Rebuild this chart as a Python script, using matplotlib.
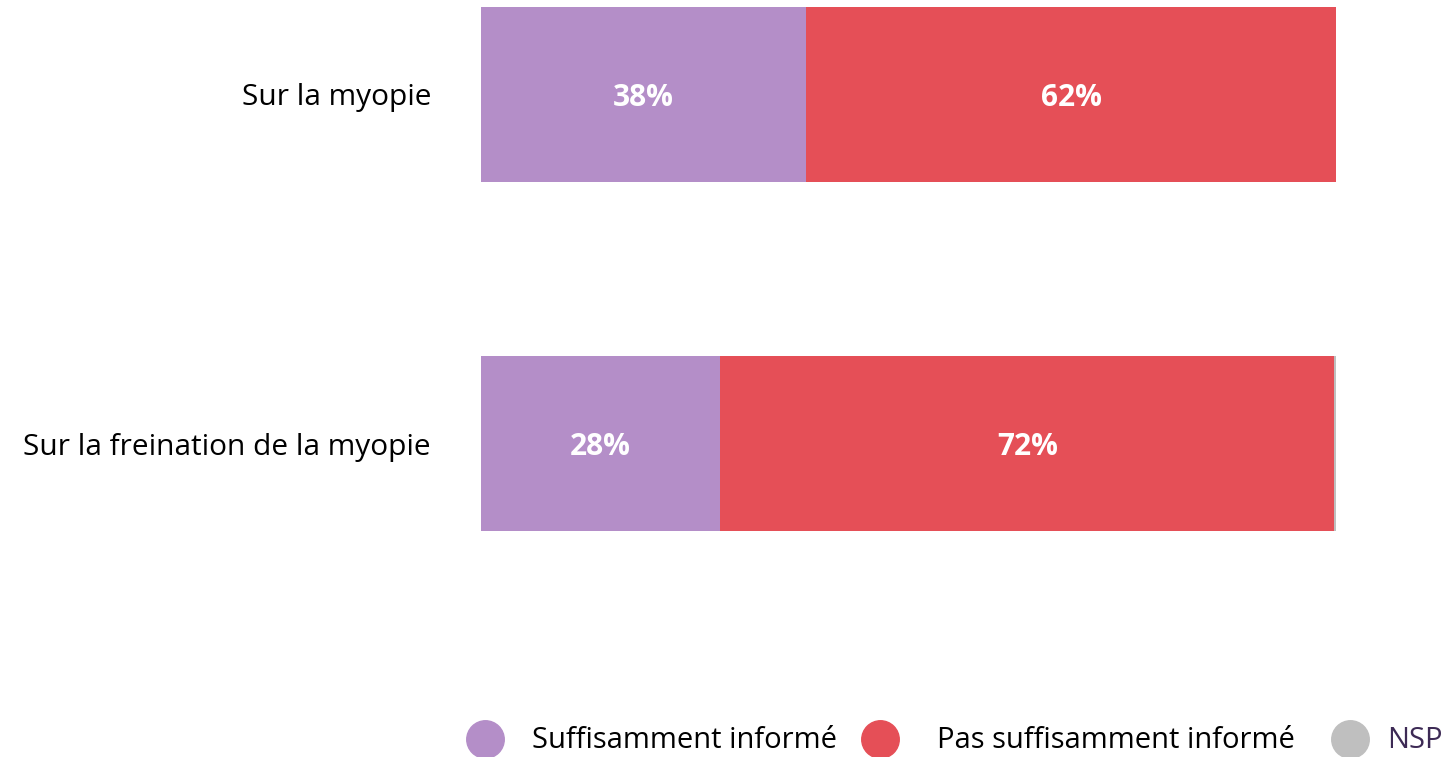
import matplotlib.pyplot as plt
from matplotlib.lines import Line2D

plt.rcParams['font.family'] = ['Open Sans', 'DejaVu Sans']

# données
categories = ['Sur la myopie', 'Sur la freination de la myopie']
suffisant = [38, 28]
pas_suffisant = [62, 71.8]
nsp = [0, 0.2]
series_names = ['Suffisamment informé', 'Pas suffisamment informé', 'NSP']
colors = ['#b48ec8', '#e54f57', '#bfbfbf']
legend_text_colors = ['black', 'black', '#3d2a55']

W, H = 1447, 757
fig = plt.figure(figsize=(W / 100, H / 100), dpi=100)
ax = fig.add_axes([481 / W, 1 - 531 / H, 855 / W, 524 / H])

y = list(range(len(categories)))
left = [0] * len(categories)
for vals, col in zip([suffisant, pas_suffisant, nsp], colors):
    bars = ax.barh(y, vals, left=left, height=0.5, color=col)
    for b, v in zip(bars, vals):
        if v >= 5:
            ax.text(b.get_x() + b.get_width() / 2, b.get_y() + b.get_height() / 2 + 0.01,
                    f'{round(v)}%', ha='center', va='center', color='white',
                    fontsize=21.5, fontweight='bold')
    left = [l + v for l, v in zip(left, vals)]

ax.set_xlim(0, 100)
ax.set_ylim(1.25, -0.25)
ax.set_yticks(y)
ax.set_yticklabels(categories, fontsize=21.5)
ax.tick_params(axis='y', length=0, pad=36)
ax.set_xticks([])
for s in ax.spines.values():
    s.set_visible(False)

# légende placée à la main
marker_x = [485, 880, 1350]
text_x = [532, 937, 1387]
for mx, tx, name, c, tc in zip(marker_x, text_x, series_names, colors, legend_text_colors):
    fig.add_artist(Line2D([mx / W], [1 - 739 / H], marker='o', markersize=27, color=c,
                          linestyle='', transform=fig.transFigure))
    fig.text(tx / W, 1 - 740 / H, name, ha='left', va='center', fontsize=21, color=tc)

fig.savefig('out.png', dpi=100)
